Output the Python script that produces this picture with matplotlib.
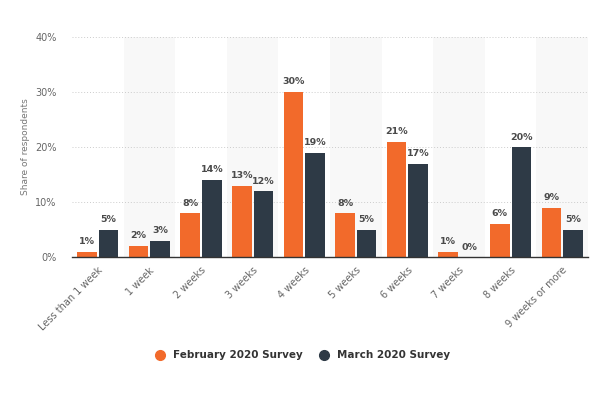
import matplotlib
matplotlib.use('agg')
import matplotlib.pyplot as plt
from matplotlib.lines import Line2D
import numpy as np

categories = ['Less than 1 week', '1 week', '2 weeks', '3 weeks', '4 weeks',
              '5 weeks', '6 weeks', '7 weeks', '8 weeks', '9 weeks or more']
feb = [1, 2, 8, 13, 30, 8, 21, 1, 6, 9]
mar = [5, 3, 14, 12, 19, 5, 17, 0, 20, 5]
series_names = ['February 2020 Survey', 'March 2020 Survey']
yticks = [0, 10, 20, 30, 40]

orange = '#f26a2b'
dark = '#2e3a46'

fig = plt.figure(figsize=(6, 4), dpi=100)
ax = fig.add_axes([0.12, 0.3575, 0.86, 0.55])

x = np.arange(len(categories))
w = 0.38
gap = 0.02

# alternating background bands
for i in x:
    if i % 2 == 1:
        ax.axvspan(i - 0.5, i + 0.5, color='#f8f8f8', zorder=0, lw=0)

b1 = ax.bar(x - w / 2 - gap, feb, w, color=orange, zorder=3)
b2 = ax.bar(x + w / 2 + gap, mar, w, color=dark, zorder=3)

for bars, vals in [(b1, feb), (b2, mar)]:
    for r, v in zip(bars, vals):
        ax.text(r.get_x() + r.get_width() / 2, v + 1.0, '%d%%' % v,
                ha='center', va='bottom', fontsize=6.8, fontweight='bold', color='#4a4a4a')

ax.set_xlim(-0.5, len(categories) - 0.5)
ax.set_ylim(0, 40)
ax.set_yticks(yticks)
ax.set_yticklabels(['%d%%' % t for t in yticks], fontsize=7, color='#666666')
ax.yaxis.grid(True, linestyle=(0, (1, 2)), color='#cccccc', lw=0.7, zorder=1)
ax.set_xticks(x)
ax.set_xticklabels(categories, rotation=45, ha='right', rotation_mode='anchor',
                   fontsize=7, color='#666666')
ax.tick_params(axis='x', length=0, pad=6)
ax.tick_params(axis='y', length=0, pad=11)
ax.set_ylabel('Share of respondents', fontsize=6.5, color='#777777', labelpad=4)

for s in ['top', 'right', 'left']:
    ax.spines[s].set_visible(False)
ax.spines['bottom'].set_color('#333333')
ax.spines['bottom'].set_linewidth(1)
ax.spines['bottom'].set_zorder(4)

handles = [Line2D([], [], marker='o', ls='', color=orange, markersize=7),
           Line2D([], [], marker='o', ls='', color=dark, markersize=7)]
leg = fig.legend(handles, series_names, loc='center',
                 bbox_to_anchor=(0.5, 0.112), ncol=2, frameon=False, fontsize=7.5,
                 handletextpad=0.3, columnspacing=1.0)
for t in leg.get_texts():
    t.set_color('#333333')
    t.set_fontweight('bold')

fig.savefig('out.png')
